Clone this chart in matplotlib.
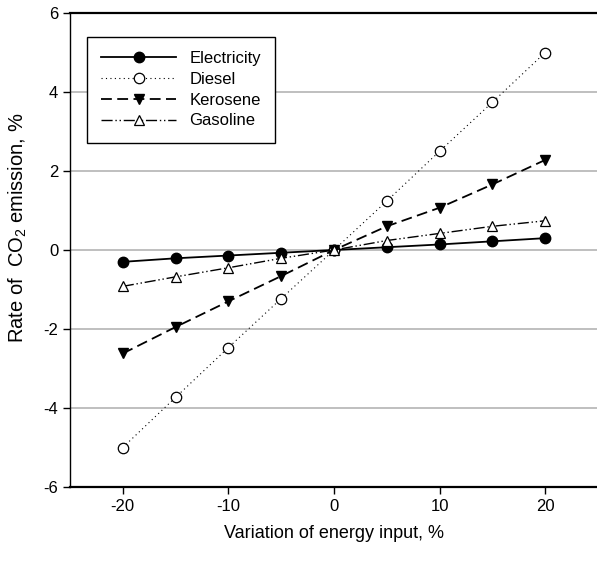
import matplotlib
matplotlib.use('Agg')
from matplotlib import pyplot as plt

plt.rcParams['font.family'] = ['Liberation Sans', 'DejaVu Sans']
plt.rcParams['mathtext.fontset'] = 'custom'
plt.rcParams['mathtext.rm'] = 'Liberation Sans'
plt.rcParams['axes.unicode_minus'] = False

variation = [-20, -15, -10, -5, 0, 5, 10, 15, 20]
electricity = [-0.3, -0.21, -0.14, -0.07, 0, 0.07, 0.14, 0.22, 0.3]
diesel = [-5.0, -3.73, -2.47, -1.23, 0, 1.24, 2.5, 3.74, 5.0]
kerosene = [-2.62, -1.95, -1.3, -0.66, 0, 0.6, 1.07, 1.66, 2.28]
gasoline = [-0.92, -0.68, -0.45, -0.21, 0, 0.24, 0.42, 0.6, 0.74]

fig = plt.figure(figsize=(5.97, 5.65), dpi=100)
ax = fig.add_axes([70 / 597, 1 - 487 / 565, 528 / 597, 474 / 565])

ms = 7.5
ax.plot(variation, electricity, color='black', linestyle='-', lw=1.3,
        marker='o', markersize=ms, markerfacecolor='black', label='Electricity')
ax.plot(variation, diesel, color='black', linestyle=(0, (1, 3)), lw=0.8,
        marker='o', markersize=ms, markerfacecolor='white', markeredgewidth=0.9, label='Diesel')
ax.plot(variation, kerosene, color='black', linestyle=(0, (6, 3)), lw=1.3,
        marker='v', markersize=ms, markerfacecolor='black', label='Kerosene')
ax.plot(variation, gasoline, color='black', linestyle=(0, (8, 2, 1, 2, 1, 2)), lw=1.0,
        marker='^', markersize=ms, markerfacecolor='white', markeredgewidth=0.9, label='Gasoline')

ax.set_xlim(-25, 25)
ax.set_ylim(-6, 6)
ax.set_xticks([-20, -10, 0, 10, 20])
ax.set_yticks([-6, -4, -2, 0, 2, 4, 6])
for y in [-4, -2, 0, 2, 4]:
    ax.axhline(y, color='#b4b4b4', lw=1.2, zorder=0)

ax.spines['right'].set_visible(False)
ax.spines['top'].set_linewidth(1.6)
ax.spines['bottom'].set_linewidth(1.6)
ax.spines['left'].set_linewidth(1.0)
ax.tick_params(direction='out', length=5, width=1, labelsize=12)

ax.set_xlabel('Variation of energy input, %', fontsize=13, labelpad=8)
ax.set_ylabel('Rate of  CO$_2$ emission, %', fontsize=14.5)
ax.yaxis.set_label_coords(-0.078, 0.546)

leg = ax.legend(loc='upper left', bbox_to_anchor=(0.032, 0.95), borderaxespad=0,
                handlelength=4.5, fontsize=12, fancybox=False, framealpha=1,
                edgecolor='black', borderpad=0.85, labelspacing=0.35, handletextpad=0.8)
leg.get_frame().set_linewidth(1.0)

fig.savefig('out.png', dpi=100)
